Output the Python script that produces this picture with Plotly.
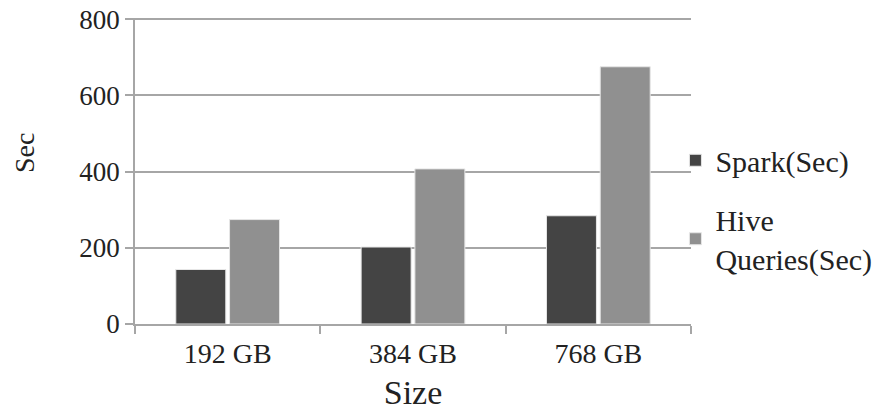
import plotly.graph_objects as go

# ── data ──────────────────────────────────────────────────────────────────────
sizes = ["192 GB", "384 GB", "768 GB"]
spark_sec = [143, 202, 284]
hive_sec = [274, 407, 675]

FONT = "Liberation Serif"
GRID = "#a6a6a6"
BODY = 8  # default page margin of the html body

fig = go.Figure()

fig.add_trace(go.Bar(
    x=sizes, y=spark_sec,
    name="Spark(Sec)", legendgroup="spark",
    marker=dict(color="#444444", line=dict(color="#e6e6e6", width=1)),
))
fig.add_trace(go.Bar(
    x=sizes, y=hive_sec,
    name="Hive<br>Queries(Sec)", legendgroup="hive",
    marker=dict(color="#909090", line=dict(color="#e6e6e6", width=1)),
))

# y title placed as annotation: it sits above the plot's vertical centre
fig.add_annotation(
    text="Sec", textangle=-90, showarrow=False,
    xref="paper", yref="paper", x=-0.199, y=0.56,
    xanchor="center", yanchor="middle",
    font=dict(family=FONT, size=28, color="#222222"),
)

fig.update_layout(
    width=881, height=411,
    paper_bgcolor="white",
    plot_bgcolor="white",
    barmode="group",
    bargap=0.42,
    bargroupgap=0.07,
    margin=dict(l=135 - BODY, r=190 + BODY, t=18 - BODY, b=87 + BODY, autoexpand=False),
    font=dict(family=FONT, size=28, color="#222222"),
    xaxis=dict(
        title=dict(text="Size", standoff=12),
        showline=True, linecolor=GRID, linewidth=1.5,
        ticks="outside", ticklen=8, tickcolor=GRID, tickwidth=1.5,
        tickson="boundaries", ticklabelstandoff=4,
        showgrid=False,
    ),
    yaxis=dict(
        range=[0, 803], tickvals=[0, 200, 400, 600, 800],
        ticklabeloverflow="allow",
        tickfont=dict(size=27),
        showline=True, linecolor=GRID, linewidth=1.5,
        ticks="outside", ticklen=8, tickcolor=GRID, tickwidth=1.5,
        showgrid=True, gridcolor=GRID, gridwidth=1.5,
        zeroline=False,
    ),
    legend=dict(
        x=0.972, xanchor="left", y=0.375, yanchor="middle",
        font=dict(family=FONT, size=30),
        traceorder="grouped", tracegroupgap=17,
        bgcolor="rgba(0,0,0,0)",
    ),
)

fig.write_html("out.html")
